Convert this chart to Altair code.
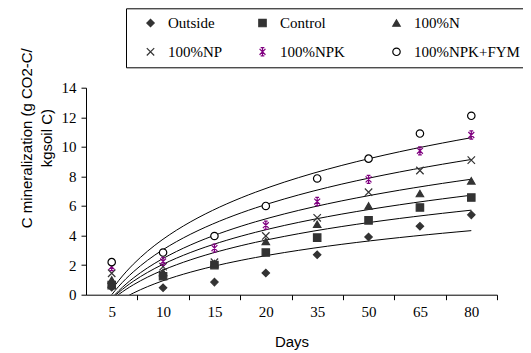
import altair as alt
import pandas as pd

DAYS = [5, 10, 15, 20, 35, 50, 65, 80]
SERIES = ["Outside", "Control", "100%N", "100%NP", "100%NPK", "100%NPK+FYM"]

OUTSIDE = [0.50, 0.47, 0.85, 1.47, 2.70, 3.90, 4.63, 5.40]
CONTROL = [0.65, 1.25, 2.00, 2.85, 3.86, 5.03, 5.90, 6.57]
N100 = [1.00, 1.50, 2.10, 3.60, 4.76, 6.00, 6.84, 7.70]
NP100 = [1.45, 1.90, 2.20, 3.97, 5.20, 6.93, 8.40, 9.10]
NPK100 = [1.90, 2.25, 3.15, 4.70, 6.30, 7.80, 9.73, 10.80]
NPK_FYM = [2.20, 2.85, 3.97, 6.00, 7.86, 9.20, 10.90, 12.10]

VALUES = [OUTSIDE, CONTROL, N100, NP100, NPK100, NPK_FYM]

rows = []
for name, vals in zip(SERIES, VALUES):
    for k, (d, v) in enumerate(zip(DAYS, vals)):
        rows.append({"series": name, "pos": k + 1, "day": d, "v": v})
df = pd.DataFrame(rows)

X_PATH = "M-1,-1L1,1M-1,1L1,-1"
STAR_PATH = ("M-0.8,-0.8L0.8,0.8M-0.8,0.8L0.8,-0.8M0,-1.1L0,1.1"
             "M-0.5,-1.1L0.5,-1.1M-0.5,1.1L0.5,1.1")
SHAPES = ["diamond", "square", "triangle-up", X_PATH, STAR_PATH, "circle"]
STROKES = ["#333333", "#333333", "#333333", "#333333", "#800080", "#000000"]
FILLS = ["#333333", "#333333", "#333333", "transparent", "transparent", "#ffffff"]

SERIF = "'Liberation Serif', 'Times New Roman', Times, serif"
SANS = "'Liberation Sans', Arial, Helvetica, sans-serif"

W = 411
H = 207
half_band = W / len(DAYS) / 2

label_js = "[" + ",".join("'%d'" % d for d in DAYS) + "][datum.value - 1]"

xscale = alt.Scale(domain=[0.5, len(DAYS) + 0.5], nice=False, zero=False)
yscale = alt.Scale(domain=[0, 14], nice=False)

xaxis = alt.Axis(
    values=list(range(1, len(DAYS) + 1)),
    labelExpr=label_js,
    tickOffset=half_band,
    labelOffset=-half_band,
    title="Days",
    titleFont=SANS,
    titleFontSize=15,
    titleFontWeight="normal",
    titleColor="black",
    titlePadding=15,
    labelFont=SERIF,
    labelFontSize=15,
    labelColor="black",
    labelPadding=5,
    tickSize=5,
    tickColor="black",
    domainColor="black",
    grid=False,
)

yaxis = alt.Axis(
    values=[0, 2, 4, 6, 8, 10, 12, 14],
    title=["C mineralization (g CO2-C/", "kgsoil C)"],
    titleFont=SANS,
    titleFontSize=15,
    titleFontWeight="normal",
    titleColor="black",
    titleLineHeight=21,
    titleAngle=270,
    titleAlign="center",
    titleBaseline="middle",
    titleX=-60,
    titleY=50,
    labelFont=SERIF,
    labelFontSize=15,
    labelColor="black",
    labelPadding=5,
    tickSize=5,
    tickColor="black",
    domainColor="black",
    grid=False,
)

X = alt.X("pos:Q", scale=xscale, axis=xaxis)
Y = alt.Y("v:Q", scale=yscale, axis=yaxis)

legend = alt.Legend(
    title=None,
    orient="none",
    legendX=40,
    legendY=-79.4,
    direction="horizontal",
    columns=3,
    strokeColor="black",
    fillColor="white",
    padding=7,
    rowPadding=13,
    columnPadding=22,
    labelFont=SERIF,
    labelFontSize=15,
    labelColor="black",
    labelOffset=10,
    labelExpr="datum.label == '100%NPK' ? datum.label + '\u2800' : datum.label",
    symbolOffset=10,
    symbolSize=55,
    symbolStrokeWidth=1.2,
)

lines = alt.Chart(df).transform_regression(
    "pos", "v", groupby=["series"], method="log", extent=[1, len(DAYS)]
).mark_line(color="black", strokeWidth=1, clip=True).encode(
    x=X, y=Y, detail="series:N"
)

points = alt.Chart(df).mark_point(filled=False, opacity=1, strokeWidth=1.2, size=55).encode(
    x=X,
    y=Y,
    shape=alt.Shape("series:N", scale=alt.Scale(domain=SERIES, range=SHAPES), legend=legend),
    stroke=alt.Stroke("series:N", scale=alt.Scale(domain=SERIES, range=STROKES), legend=legend),
    fill=alt.Fill("series:N", scale=alt.Scale(domain=SERIES, range=FILLS), legend=legend),
)

chart = alt.layer(lines, points).properties(
    width=W,
    height=H,
    padding={"left": 78, "top": 79.7, "right": 26, "bottom": 58},
    autosize=alt.AutoSizeParams(type="none"),
    background="white",
).configure_view(stroke=None)

chart.save("out.html", embed_options={"renderer": "svg", "actions": False})
